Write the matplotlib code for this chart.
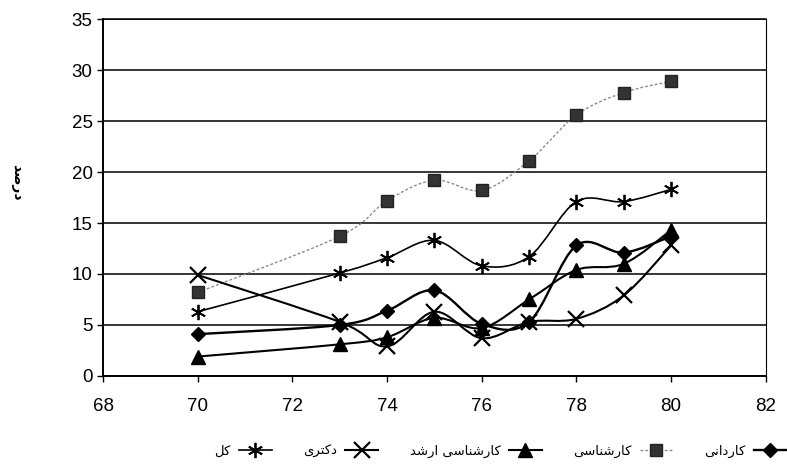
import matplotlib
matplotlib.use("Agg")
import matplotlib.pyplot as plt
import numpy as np
from matplotlib.path import Path
from matplotlib.patches import PathPatch
from matplotlib.lines import Line2D

# years (Iranian calendar) and percentages
years = [70, 73, 74, 75, 76, 77, 78, 79, 80]
karshenasi = [8.2, 13.7, 17.2, 19.2, 18.2, 21.1, 25.6, 27.8, 28.9]   # squares
kol = [6.3, 10.1, 11.6, 13.3, 10.8, 11.7, 17.1, 17.1, 18.3]          # stars
kardani = [4.1, 5.0, 6.4, 8.4, 5.1, 5.3, 12.8, 12.1, 13.7]           # diamonds
arshad = [1.9, 3.1, 3.8, 5.7, 4.7, 7.5, 10.4, 11.0, 14.3]            # triangles
doktori = [9.9, 5.3, 2.9, 6.3, 3.7, 5.3, 5.6, 7.9, 12.8]             # crosses

# Persian labels, written in shaped (presentation) forms in visual order
lbl_kardani = "\ufbfd\ufee7\ufe8d\ufea9\ufead\ufe8e\ufb90"
lbl_karshenasi = "\ufbfd\ufeb3\ufe8e\ufee8\ufeb7\ufead\ufe8e\ufb90"
lbl_arshad = "\ufeaa\ufeb7\ufead\ufe8d " + lbl_karshenasi
lbl_doktori = "\ufbfc\ufeae\ufe98\ufb90\ufea9"
lbl_kol = "\ufede\ufb90"
lbl_y = "\ufeaa\ufebb\ufead\ufea9"

x_ticks = [68, 70, 72, 74, 76, 78, 80, 82]
y_ticks = [0, 5, 10, 15, 20, 25, 30, 35]


def smooth_path(xs, ys):
    # cubic bezier segments through the data points (excel style smoothed line)
    pts = np.column_stack([xs, ys]).astype(float)
    verts = [pts[0]]
    codes = [Path.MOVETO]
    n = len(pts)
    for i in range(n - 1):
        p0 = pts[i - 1] if i > 0 else pts[i]
        p1 = pts[i]
        p2 = pts[i + 1]
        p3 = pts[i + 2] if i + 2 < n else pts[i + 1]
        c1 = p1 + (p2 - p0) / 6.0
        c2 = p2 - (p3 - p1) / 6.0
        verts += [c1, c2, p2]
        codes += [Path.CURVE4] * 3
    return Path(verts, codes)


fig = plt.figure(figsize=(7.87, 4.67), dpi=100)
ax = fig.add_axes([0.131, 0.195, 0.842, 0.764])

series = [
    (karshenasi, dict(color="#8a8a8a", lw=1.0, ls=(0, (2, 1.5))),
     dict(marker="s", ms=8.5, mfc="#333333", mec="#222222"), lbl_karshenasi),
    (kol, dict(color="black", lw=1.2, ls="-"),
     dict(marker=(6, 2, 0), ms=11, mec="black", mew=1.3), lbl_kol),
    (kardani, dict(color="black", lw=1.7, ls="-"),
     dict(marker="D", ms=7, mfc="black", mec="black"), lbl_kardani),
    (arshad, dict(color="black", lw=1.5, ls="-"),
     dict(marker="^", ms=10.5, mfc="black", mec="black"), lbl_arshad),
    (doktori, dict(color="black", lw=1.5, ls="-"),
     dict(marker="x", ms=12, mec="black", mew=1.6), lbl_doktori),
]

handles = {}
for vals, lstyle, mstyle, lbl in series:
    patch = PathPatch(smooth_path(years, vals), fill=False, edgecolor=lstyle["color"],
                      lw=lstyle["lw"], ls=lstyle["ls"], zorder=3)
    ax.add_patch(patch)
    ax.plot(years, vals, ls="none", zorder=4, **mstyle)
    handles[lbl] = Line2D([], [], color=lstyle["color"], lw=lstyle["lw"], ls=lstyle["ls"], **mstyle)

ax.set_xlim(68, 82)
ax.set_ylim(0, 35)
ax.set_xticks(x_ticks)
ax.set_yticks(y_ticks)
ax.yaxis.grid(True, color="black", lw=1.1)
ax.set_axisbelow(True)
for s in ["left", "bottom"]:
    ax.spines[s].set_linewidth(1.4)
ax.spines["top"].set_linewidth(1.1)
ax.spines["right"].set_linewidth(0.8)
ax.spines["right"].set_linestyle((0, (1, 1)))
ax.tick_params(axis="both", labelsize=13.5, length=4, width=1, color="black")
for t in ax.get_xticklabels() + ax.get_yticklabels():
    t.set_fontfamily("Liberation Sans")
ax.tick_params(axis="x", pad=12)

fig.text(0.022, 0.61, lbl_y, rotation=270, fontsize=10, fontweight="bold",
         family="DejaVu Sans", ha="center", va="center")

order = [lbl_kol, lbl_doktori, lbl_arshad, lbl_karshenasi, lbl_kardani]
fig.legend([handles[k] for k in order], order, loc="center", ncol=5,
           bbox_to_anchor=(0.636, 0.034), frameon=False, markerfirst=False,
           prop={"family": "DejaVu Sans", "size": 9.5}, handlelength=2.5,
           columnspacing=2.4, handletextpad=0.6)

fig.savefig("out.png", dpi=100)
